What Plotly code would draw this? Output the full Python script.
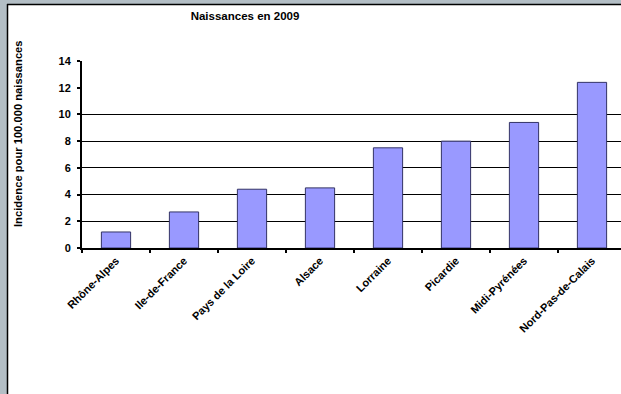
import plotly.graph_objects as go

categories = ["Rhône-Alpes", "Ile-de-France", "Pays de la Loire", "Alsace",
              "Lorraine", "Picardie", "Midi-Pyrénées", "Nord-Pas-de-Calais"]
values = [1.2, 2.7, 4.4, 4.5, 7.5, 8.0, 9.4, 12.4]
y_ticks = [0, 2, 4, 6, 8, 10, 12, 14]
grid_vals = [2, 4, 6, 8, 10]

W, H = 621, 394
L, R, T, B = 82, 0, 61, 146
pw, ph = W - L - R, H - T - B

def px_x(p):
    return (p - L) / pw

def px_y(p):
    return (H - B - p) / ph

FONT = "Liberation Sans, Arial, sans-serif"

fig = go.Figure()
fig.add_trace(go.Bar(
    x=categories, y=values,
    marker=dict(color="#9999FF", line=dict(color="#333366", width=1)),
    width=0.43,
))

fig.update_layout(
    width=W, height=H,
    margin=dict(l=L, r=R, t=T, b=B),
    paper_bgcolor="white", plot_bgcolor="white",
    showlegend=False,
    title=dict(text="Naissances en 2009", x=245 / W, xref="container", xanchor="center",
               y=1 - 16 / H, yref="container", yanchor="middle",
               font=dict(family=FONT, size=11.5, color="black", weight="bold")),
    xaxis=dict(
        type="category", range=[-0.5, -0.5 + pw / 68.0],
        showline=True, linecolor="black", linewidth=2,
        ticks="outside", tickson="boundaries", ticklen=3, tickwidth=2, tickcolor="black",
        tickangle=-45, showgrid=False,
        tickfont=dict(family=FONT, size=11, color="black", weight="bold"),
    ),
    yaxis=dict(
        range=[0, 14], tickvals=y_ticks, showgrid=False, zeroline=False,
        showline=True, linecolor="black", linewidth=2,
        ticks="outside", ticklen=3, tickwidth=2, tickcolor="black",
        ticklabelstandoff=4,
        tickfont=dict(family=FONT, size=11, color="black", weight="bold"),
    ),
    yaxis2=dict(
        range=[0, 14], tickvals=grid_vals, overlaying="y", side="right",
        showgrid=True, gridcolor="black", gridwidth=1, showticklabels=False,
        zeroline=False, showline=False, ticks="",
    ),
    annotations=[dict(
        text="Incidence pour 100.000 naissances", textangle=-90,
        xref="paper", yref="paper", x=px_x(18), y=px_y(134),
        xanchor="center", yanchor="middle", showarrow=False,
        font=dict(family=FONT, size=11.2, color="black", weight="bold"),
    )],
    shapes=[
        dict(type="rect", xref="paper", yref="paper", x0=px_x(0), x1=px_x(7),
             y0=px_y(H), y1=px_y(0), fillcolor="#B3BEC5", line=dict(width=0), layer="above"),
        dict(type="rect", xref="paper", yref="paper", x0=px_x(0), x1=px_x(W),
             y0=px_y(4), y1=px_y(0), fillcolor="#B3BEC5", line=dict(width=0), layer="above"),
        dict(type="line", xref="paper", yref="paper", x0=px_x(7.5), x1=px_x(7.5),
             y0=px_y(H), y1=px_y(4), line=dict(color="black", width=1.5), layer="above"),
        dict(type="line", xref="paper", yref="paper", x0=px_x(7), x1=px_x(W),
             y0=px_y(4.5), y1=px_y(4.5), line=dict(color="black", width=1.5), layer="above"),
    ],
)
# invisible trace so the grid axis is drawn
fig.add_trace(go.Scatter(x=[categories[0]], y=[0], yaxis="y2", mode="markers",
                         marker=dict(opacity=0), hoverinfo="skip"))

fig.write_html("out.html")
